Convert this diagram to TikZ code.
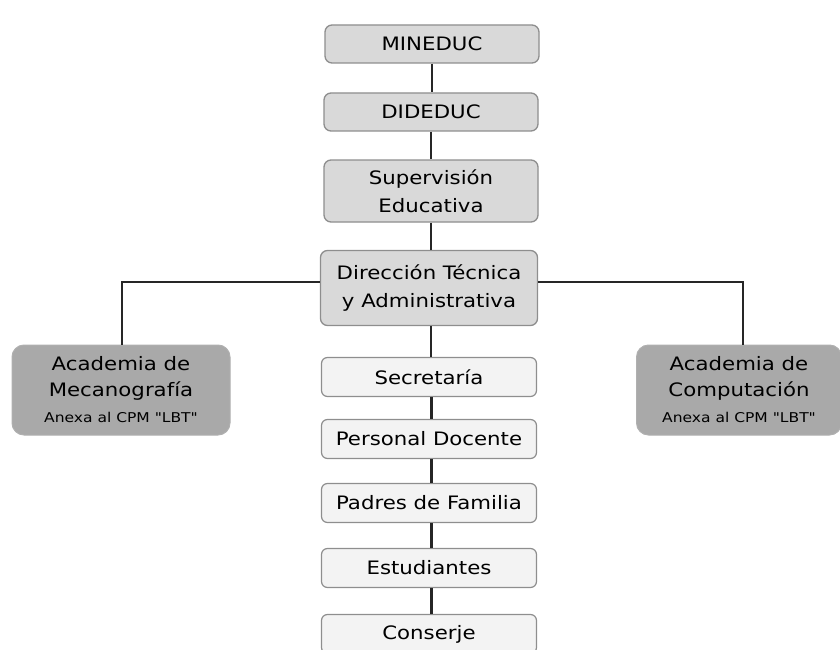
\documentclass[tikz,border=0pt]{standalone}
\usepackage{fontspec}
\newfontfamily\boxfont[FakeStretch=1.15]{DejaVu Sans}
\usetikzlibrary{positioning}

\definecolor{topfill}{HTML}{D9D9D9}
\definecolor{sidefill}{HTML}{A9A9A9}
\definecolor{lowfill}{HTML}{F3F3F3}
\definecolor{edgegray}{HTML}{8E8E8E}

\tikzset{
  topbox/.style={draw=edgegray, line width=1.3pt, fill=topfill, rounded corners=7pt,
    minimum width=214pt, align=center, font=\boxfont\fontsize{18.5}{28}\selectfont},
  sidebox/.style={draw=edgegray!70, line width=1pt, fill=sidefill, rounded corners=12pt,
    minimum height=90pt, align=center, font=\boxfont\fontsize{18.5}{26}\selectfont},
  lowbox/.style={draw=edgegray, line width=1.2pt, fill=lowfill, rounded corners=6pt,
    minimum width=215pt, minimum height=39pt, font=\boxfont\fontsize{18.5}{22}\selectfont},
  link/.style={line width=1.8pt, black!85},
  thicklink/.style={line width=3pt, black!85}
}

\begin{document}
\begin{tikzpicture}[x=1pt, y=-1pt]
  \useasboundingbox (0, 0) rectangle (840, 650);

  % main line
  \node[topbox, minimum height=38pt] (mineduc) at (432, 44) {MINEDUC};
  \node[topbox, minimum height=38pt] (dideduc) at (431, 112) {DIDEDUC};
  \node[topbox, minimum height=62pt] (superv) at (431, 191) {Supervisión\\Educativa};
  \node[topbox, minimum height=75pt, minimum width=217pt] (direccion) at (429, 288) {Dirección Técnica\\y Administrativa};

  % academias
  \node[sidebox, minimum width=218pt] (mecano) at (121, 390)
    {Academia de\\Mecanografía\\{\fontsize{13.5}{14}\selectfont Anexa al CPM "LBT"}};
  \node[sidebox, minimum width=205pt] (compu) at (739, 390)
    {Academia de\\Computación\\{\fontsize{13.5}{14}\selectfont Anexa al CPM "LBT"}};

  % personal
  \node[lowbox] (secre) at (429, 377) {Secretaría};
  \node[lowbox] (docente) at (429, 439) {Personal Docente};
  \node[lowbox] (padres) at (429, 503) {Padres de Familia};
  \node[lowbox] (estud) at (429, 568) {Estudiantes};
  \node[lowbox] (conserje) at (429, 634) {Conserje};

  \draw[link] (mineduc.south) -- (mineduc.south |- dideduc.north);
  \draw[link] (dideduc) -- (superv);
  \draw[link] (superv.south) -- (superv.south |- direccion.north);
  \draw[link] ([yshift=6pt]direccion.west) -| ([xshift=1pt]mecano.north);
  \draw[link] ([yshift=6pt]direccion.east) -| ([xshift=4pt]compu.north);
  \draw[link] ([xshift=2pt]direccion.south) -- ([xshift=2pt]secre.north);

  \draw[thicklink] ([xshift=2pt]secre.south) -- ([xshift=2pt]docente.north);
  \draw[thicklink] ([xshift=2pt]docente.south) -- ([xshift=2pt]padres.north);
  \draw[thicklink] ([xshift=2pt]padres.south) -- ([xshift=2pt]estud.north);
  \draw[thicklink] ([xshift=2pt]estud.south) -- ([xshift=2pt]conserje.north);
\end{tikzpicture}
\end{document}
